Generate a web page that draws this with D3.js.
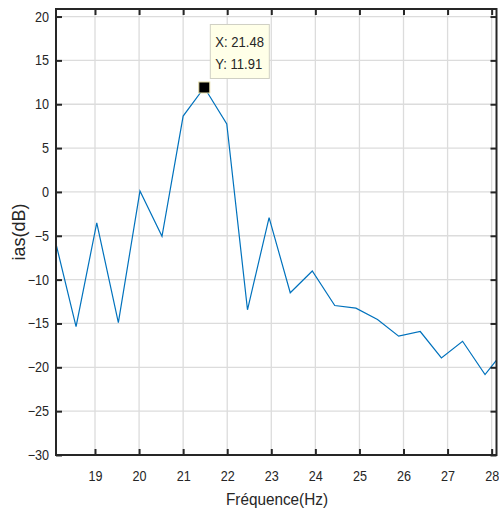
<!DOCTYPE html>
<html>
<head>
<meta charset="utf-8">
<script src="https://cdn.jsdelivr.net/npm/d3@7"></script>
<style>
  body { margin: 0; background: #fff; }
  text { font-family: "Liberation Sans", Arial, sans-serif; fill: #262626; }
</style>
</head>
<body>
<svg id="chart" width="499" height="513"></svg>
<script>
// spectrum (Hz, dB)
var freqHz = [18.08, 18.57, 19.04, 19.53, 20.02, 20.52, 21.00, 21.48, 21.99, 22.46, 22.95,
  23.43, 23.93, 24.44, 24.92, 25.41, 25.89, 26.38, 26.86, 27.34, 27.85, 28.33];
var iasDb = [-5.2, -15.35, -3.54, -14.9, 0.1, -5.06, 8.65, 11.91, 7.74, -13.44, -2.93,
  -11.5, -9.02, -12.95, -13.25, -14.55, -16.45, -15.92, -18.93, -17.03, -20.83, -17.8];

var xTicks = [19, 20, 21, 22, 23, 24, 25, 26, 27, 28];
var yTicks = [-30, -25, -20, -15, -10, -5, 0, 5, 10, 15, 20];

// data tip shown on the peak
var tipPoint = [21.48, 11.91];

// plot box (window.top is taken, so no plain "top")
var pLeft = 56, pRight = 496.5, pTop = 9, pBottom = 455;

var svg = d3.select('#chart');

var x = d3.scaleLinear().domain([18.115, 28.11]).range([pLeft, pRight]);
var y = d3.scaleLinear().domain([-30, 20.86]).range([pBottom, pTop]);

// make the text a bit narrower like the original export
function squeeze(sel) {
  sel.each(function() {
    var w = this.getComputedTextLength();
    d3.select(this).attr('textLength', w * 0.9).attr('lengthAdjust', 'spacingAndGlyphs');
  });
}

// grid
var grid = svg.append('g').attr('stroke', '#dcdcdc').attr('stroke-width', 1.3);
grid.selectAll('line.gx')
  .data(xTicks)
  .enter()
  .append('line')
  .attr('x1', function(d) { return x(d); })
  .attr('x2', function(d) { return x(d); })
  .attr('y1', pTop)
  .attr('y2', pBottom);
grid.selectAll('line.gy')
  .data(yTicks)
  .enter()
  .append('line')
  .attr('x1', pLeft)
  .attr('x2', pRight)
  .attr('y1', function(d) { return y(d); })
  .attr('y2', function(d) { return y(d); });

svg.append('clipPath').attr('id', 'plotclip')
  .append('rect')
  .attr('x', pLeft).attr('y', pTop)
  .attr('width', pRight - pLeft).attr('height', pBottom - pTop);

var line = d3.line()
  .x(function(d, i) { return x(freqHz[i]); })
  .y(function(d) { return y(d); });

svg.append('path')
  .datum(iasDb)
  .attr('clip-path', 'url(#plotclip)')
  .attr('fill', 'none')
  .attr('stroke', '#0072BD')
  .attr('stroke-width', 1.2)
  .attr('d', line);

// axes, ticks pointing inward
var xAxis = svg.append('g')
  .attr('transform', 'translate(0,' + pBottom + ')')
  .call(d3.axisBottom(x).tickValues(xTicks).tickSizeInner(-6).tickSizeOuter(0).tickPadding(16));
var yAxis = svg.append('g')
  .attr('transform', 'translate(' + pLeft + ',0)')
  .call(d3.axisLeft(y).tickValues(yTicks).tickSizeInner(-6).tickSizeOuter(0).tickPadding(7));
svg.append('g')
  .attr('transform', 'translate(0,' + pTop + ')')
  .call(d3.axisTop(x).tickValues(xTicks).tickSizeInner(-6).tickSizeOuter(0).tickFormat(''));
svg.append('g')
  .attr('transform', 'translate(' + pRight + ',0)')
  .call(d3.axisRight(y).tickValues(yTicks).tickSizeInner(-6).tickSizeOuter(0).tickFormat(''));

svg.selectAll('.domain').remove();
svg.selectAll('.tick line').attr('stroke', '#262626').attr('stroke-width', 2);
svg.selectAll('.tick text')
  .attr('fill', '#262626')
  .style('font-size', '14px')
  .style('font-family', '"Liberation Sans", Arial, sans-serif');
squeeze(xAxis.selectAll('.tick text'));
squeeze(yAxis.selectAll('.tick text'));

// box
svg.append('rect')
  .attr('x', pLeft).attr('y', pTop)
  .attr('width', pRight - pLeft).attr('height', pBottom - pTop)
  .attr('fill', 'none')
  .attr('stroke', '#262626')
  .attr('stroke-width', 2);

// labels
var xl = svg.append('text')
  .attr('x', 277).attr('y', 505)
  .attr('text-anchor', 'middle')
  .style('font-size', '17px')
  .text('Fréquence(Hz)');
squeeze(xl);

svg.append('text')
  .attr('transform', 'translate(25,232) rotate(-90)')
  .attr('text-anchor', 'middle')
  .style('font-size', '18px')
  .text('ias(dB)');

// data tip
var mx = x(tipPoint[0]), my = y(tipPoint[1]);
svg.append('rect')
  .attr('x', mx - 5.5).attr('y', my - 5.5)
  .attr('width', 11).attr('height', 11)
  .attr('fill', '#000')
  .attr('stroke', '#e6dfa8')
  .attr('stroke-width', 1);

var bx = mx + 6, by = my - 63;
svg.append('rect')
  .attr('x', bx).attr('y', by)
  .attr('width', 59).attr('height', 54)
  .attr('fill', '#ffffe8')
  .attr('stroke', '#d0d0c4')
  .attr('stroke-width', 1);

var tipText = svg.append('g').style('font-size', '14.5px');
tipText.append('text').attr('x', bx + 5).attr('y', by + 23).text('X: ' + tipPoint[0].toFixed(2));
tipText.append('text').attr('x', bx + 5).attr('y', by + 45).text('Y: ' + tipPoint[1].toFixed(2));
squeeze(tipText.selectAll('text'));
</script>
</body>
</html>
